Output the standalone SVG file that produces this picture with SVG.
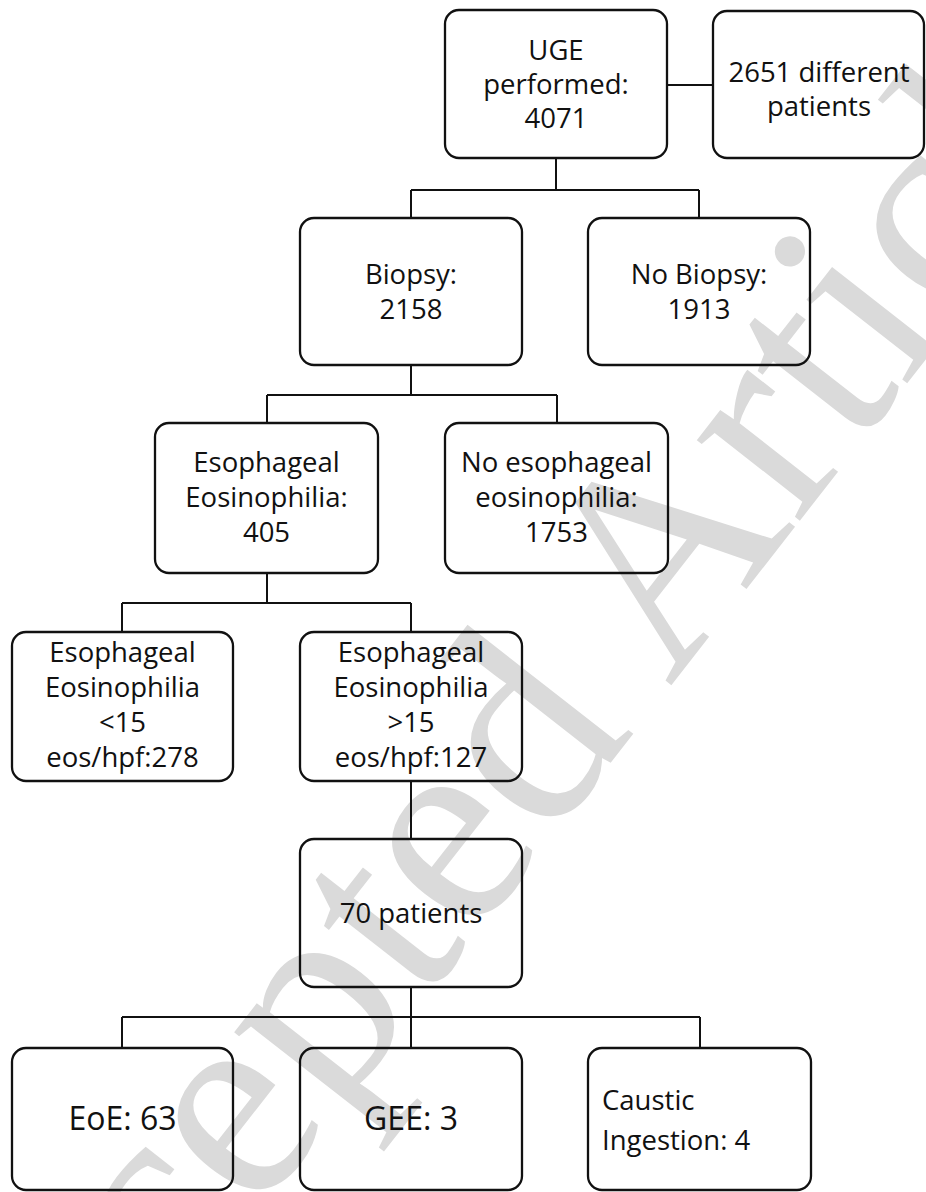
<svg xmlns="http://www.w3.org/2000/svg" width="926" height="1192" viewBox="0 0 926 1192">
<style>
.box{fill:none;stroke:#111;stroke-width:2.3}
.lbl{font-family:"Open Sans","Noto Sans","Liberation Sans",sans-serif;font-size:27.5px;fill:#111;text-anchor:middle}
.big{font-size:32px}
.left{text-anchor:start}
.con{fill:none;stroke:#111;stroke-width:2}
.wm{font-family:"Liberation Serif","DejaVu Serif",serif;font-size:285px;fill:#dadada}
</style>
<rect width="926" height="1192" fill="#fff"/>
<text class="wm" transform="translate(-27,1579) rotate(-52)">Accepted Article</text>
<g id="connectors">
<path class="con" d="M556 158V190M411 190H699M411 190V218M699 190V218"/>
<path class="con" d="M667 85H713"/>
<path class="con" d="M411 365V395M267 395H557M267 395V423M557 395V423"/>
<path class="con" d="M267 573V603M122 603H411M122 603V632M411 603V632"/>
<path class="con" d="M411 781V839"/>
<path class="con" d="M411 987V1048M122 1017H700M122 1017V1048M700 1017V1048"/>
</g>
<g id="n_uge">
<rect class="box" x="445" y="10" width="222" height="148" rx="14"/>
<text class="lbl" x="556" y="60">UGE</text>
<text class="lbl" x="556" y="94">performed:</text>
<text class="lbl" x="556" y="128">4071</text>
</g>
<g id="n_patients">
<rect class="box" x="713" y="11" width="211" height="147" rx="14"/>
<text class="lbl" x="819" y="82">2651 different</text>
<text class="lbl" x="819" y="116">patients</text>
</g>
<g id="n_biopsy">
<rect class="box" x="300" y="218" width="222" height="147" rx="14"/>
<text class="lbl" x="411" y="284">Biopsy:</text>
<text class="lbl" x="411" y="319">2158</text>
</g>
<g id="n_nobiopsy">
<rect class="box" x="588" y="218" width="222" height="147" rx="14"/>
<text class="lbl" x="699" y="284">No Biopsy:</text>
<text class="lbl" x="699" y="319">1913</text>
</g>
<g id="n_ee">
<rect class="box" x="155" y="423" width="223" height="150" rx="14"/>
<text class="lbl" x="266.5" y="472">Esophageal</text>
<text class="lbl" x="266.5" y="507">Eosinophilia:</text>
<text class="lbl" x="266.5" y="542">405</text>
</g>
<g id="n_noee">
<rect class="box" x="445" y="423" width="223" height="150" rx="14"/>
<text class="lbl" x="556.5" y="472">No esophageal</text>
<text class="lbl" x="556.5" y="507">eosinophilia:</text>
<text class="lbl" x="556.5" y="542">1753</text>
</g>
<g id="n_lt15">
<rect class="box" x="12" y="632" width="221" height="149" rx="14"/>
<text class="lbl" x="122.5" y="662">Esophageal</text>
<text class="lbl" x="122.5" y="697">Eosinophilia</text>
<text class="lbl" x="122.5" y="732">&lt;15</text>
<text class="lbl" x="122.5" y="767">eos/hpf:278</text>
</g>
<g id="n_gt15">
<rect class="box" x="300" y="632" width="222" height="149" rx="14"/>
<text class="lbl" x="411" y="662">Esophageal</text>
<text class="lbl" x="411" y="697">Eosinophilia</text>
<text class="lbl" x="411" y="732">&gt;15</text>
<text class="lbl" x="411" y="767">eos/hpf:127</text>
</g>
<g id="n_70">
<rect class="box" x="300" y="839" width="222" height="148" rx="14"/>
<text class="lbl" x="411" y="923">70 patients</text>
</g>
<g id="n_eoe">
<rect class="box" x="12" y="1048" width="221" height="142" rx="14"/>
<text class="lbl big" x="122.5" y="1130">EoE: 63</text>
</g>
<g id="n_gee">
<rect class="box" x="300" y="1048" width="222" height="142" rx="14"/>
<text class="lbl big" x="411" y="1130">GEE: 3</text>
</g>
<g id="n_caustic">
<rect class="box" x="588" y="1048" width="223" height="142" rx="14"/>
<text class="lbl left" x="602" y="1110">Caustic</text>
<text class="lbl left" x="602" y="1150">Ingestion: 4</text>
</g>
</svg>
